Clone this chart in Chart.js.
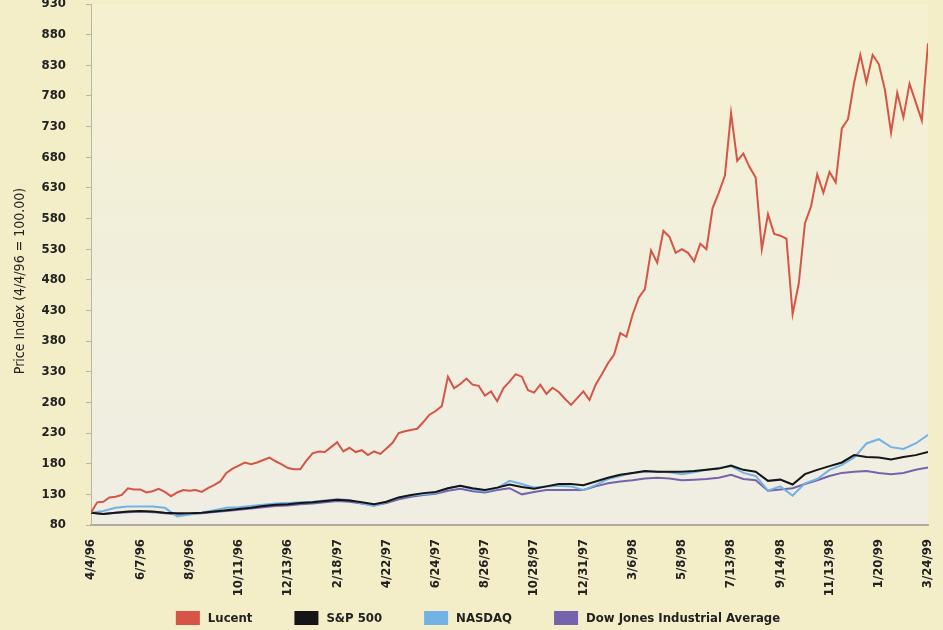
<!DOCTYPE html>
<html>
<head>
<meta charset="utf-8">
<script src="https://cdn.jsdelivr.net/npm/chart.js@4"></script>
<style>
  html, body { margin: 0; padding: 0; background: #f3eec8; }
  #wrap { width: 943px; height: 630px; }
</style>
</head>
<body>
<div id="wrap"><canvas id="chart" width="943" height="630"></canvas></div>
<script>
const dateLabels = ['4/4/96', '6/7/96', '8/9/96', '10/11/96', '12/13/96', '2/18/97', '4/22/97', '6/24/97',
  '8/26/97', '10/28/97', '12/31/97', '3/6/98', '5/8/98', '7/13/98', '9/14/98', '11/13/98', '1/20/99', '3/24/99'];

// Lucent: 8 readings per label interval
const lucent = [100, 117, 118, 125, 126, 129, 140, 138, 138, 133, 135, 139, 134, 127, 133, 137,
  136, 137, 134, 140, 145, 151, 165, 172, 177, 182, 179, 182, 186, 190, 184, 179,
  173, 171, 171, 185, 197, 200, 199, 207, 215, 200, 206, 199, 202, 194, 200, 196,
  205, 214, 230, 233, 235, 237, 248, 260, 266, 274, 322, 303, 310, 319, 309, 307,
  291, 298, 282, 303, 314, 326, 322, 300, 296, 309, 294, 304, 297, 286, 276, 287,
  298, 284, 309, 326, 344, 358, 393, 387, 423, 451, 465, 528, 508, 560, 550, 524,
  530, 524, 510, 539, 530, 597, 622, 650, 752, 674, 686, 664, 647, 530, 587, 555,
  552, 547, 424, 474, 572, 600, 652, 622, 656, 639, 727, 742, 802, 847, 802, 847,
  832, 790, 720, 785, 745, 800, 770, 740, 866];

// indices: 4 readings per label interval
const sp500 = [100, 98, 100, 102, 103, 102, 100, 99, 99, 100, 102, 104, 106, 108, 111, 113,
  114, 116, 117, 119, 121, 120, 117, 114, 118, 125, 129, 132, 134, 140, 144, 140,
  137, 141, 146, 142, 139, 143, 147, 147, 145, 151, 157, 162, 165, 168, 167, 167,
  167, 168, 170, 172, 177, 170, 167, 152, 154, 146, 163, 170, 176, 182, 194, 191,
  190, 187, 191, 194, 199];
const nasdaq = [100, 103, 108, 110, 110, 110, 108, 94, 97, 100, 104, 108, 109, 111, 113, 115,
  116, 117, 118, 120, 122, 121, 115, 111, 118, 125, 128, 130, 132, 140, 144, 138,
  135, 140, 152, 147, 141, 143, 144, 143, 137, 145, 155, 160, 165, 167, 167, 166,
  163, 166, 170, 173, 176, 165, 160, 136, 143, 128, 148, 155, 170, 178, 190, 213,
  220, 207, 204, 213, 227];
const dow = [100, 98, 100, 101, 102, 101, 99, 97, 98, 99, 101, 103, 105, 107, 109, 111,
  112, 114, 115, 117, 119, 118, 115, 112, 116, 122, 126, 129, 131, 136, 139, 135,
  133, 137, 140, 130, 134, 137, 137, 137, 137, 143, 148, 151, 153, 156, 157, 156,
  153, 154, 155, 157, 162, 155, 153, 136, 138, 140, 147, 153, 160, 165, 167, 168,
  165, 163, 165, 170, 174];

const yTitle = 'Price Index (4/4/96 = 100.00)';
const font = "'Liberation Sans Narrow', 'DejaVu Sans Condensed', sans-serif";

const paper = {
  id: 'paper',
  beforeDraw(chart) {
    const { ctx, chartArea: a } = chart;
    ctx.save();
    ctx.fillStyle = '#f3eec8';
    ctx.fillRect(0, 0, chart.width, chart.height);
    const g = ctx.createLinearGradient(0, a.top, 0, a.bottom);
    g.addColorStop(0, '#f5f1cf');
    g.addColorStop(0.5, '#f1efdc');
    g.addColorStop(1, '#f0eee3');
    ctx.fillStyle = g;
    ctx.fillRect(a.left, a.top, a.right - a.left, a.bottom - a.top);
    ctx.restore();
  }
};

// axis title and a spaced-out legend row, the built-in legend packs too tight
const extras = {
  id: 'extras',
  afterDraw(chart) {
    const { ctx } = chart;
    ctx.save();
    ctx.fillStyle = '#222';
    ctx.font = '14px ' + font;
    ctx.textAlign = 'center';
    ctx.textBaseline = 'middle';
    ctx.translate(20, 281);
    ctx.rotate(-Math.PI / 2);
    ctx.fillText(yTitle, 0, 0);
    ctx.restore();

    ctx.save();
    ctx.font = 'bold 13px ' + font;
    ctx.textBaseline = 'middle';
    const sets = chart.data.datasets;
    const gap = 42, box = 24, textGap = 8;
    const widths = sets.map(d => box + textGap + ctx.measureText(d.label).width);
    const total = widths.reduce((s, w) => s + w, 0) + gap * (sets.length - 1);
    let x = 478 - total / 2;
    const y = 618;
    sets.forEach((d, i) => {
      ctx.fillStyle = d.borderColor;
      ctx.fillRect(x, y - 7, box, 14);
      ctx.fillStyle = '#222';
      ctx.fillText(d.label, x + box + textGap, y + 1);
      x += widths[i] + gap;
    });
    ctx.restore();
  }
};

function series(values, step) {
  return values.map((v, i) => ({ x: i * step, y: v }));
}

new Chart(document.getElementById('chart'), {
  type: 'line',
  data: {
    datasets: [
      { label: 'Lucent', data: series(lucent, 1), borderColor: '#d65546', borderWidth: 2 },
      { label: 'S&P 500', data: series(sp500, 2), borderColor: '#151515', borderWidth: 2 },
      { label: 'NASDAQ', data: series(nasdaq, 2), borderColor: '#72b2e4', borderWidth: 2 },
      { label: 'Dow Jones Industrial Average', data: series(dow, 2), borderColor: '#7563ad', borderWidth: 2 },
    ],
  },
  options: {
    responsive: false,
    animation: false,
    elements: { point: { radius: 0 }, line: { tension: 0 } },
    layout: { padding: { top: 4, right: 15, left: 0, bottom: 30 } },
    scales: {
      x: {
        type: 'linear',
        min: 0,
        max: 136,
        grid: { display: false, drawTicks: false },
        border: { color: '#aeaca0', width: 2 },
        ticks: {
          stepSize: 8,
          autoSkip: false,
          maxRotation: 90,
          minRotation: 90,
          padding: 14,
          color: '#222',
          font: { family: font, size: 13, weight: 'bold' },
          callback: (v) => dateLabels[v / 8],
        },
        afterFit: (s) => {
          s.height = 75;
          s.paddingLeft = 0;
          s.paddingRight = 0;
        },
      },
      y: {
        min: 80,
        max: 930,
        grid: { drawOnChartArea: false, tickLength: 5, color: '#b8b6aa' },
        border: { color: '#b8b6aa' },
        ticks: {
          stepSize: 50,
          padding: 20,
          color: '#222',
          font: { family: font, size: 13, weight: 'bold' },
        },
        afterFit: (s) => {
          s.width = 91;
          s.paddingTop = 0;
          s.paddingBottom = 0;
        },
      },
    },
    plugins: {
      tooltip: { enabled: false },
      legend: { display: false },
    },
  },
  plugins: [paper, extras],
});
</script>
</body>
</html>
